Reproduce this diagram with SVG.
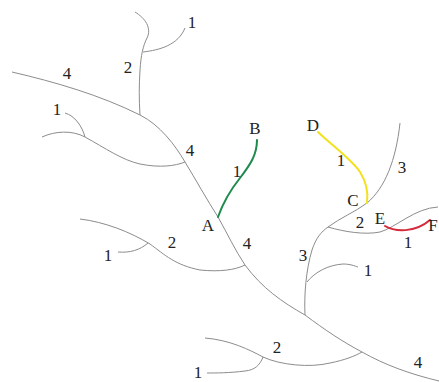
<svg xmlns="http://www.w3.org/2000/svg" width="439" height="382" viewBox="0 0 439 382">
<style>
.br{fill:none;stroke:#8c8c8c;stroke-width:1}
.hl{fill:none;stroke-width:2;stroke-linecap:round}
text{font-family:"Liberation Serif","Times New Roman",serif;font-size:17px;fill:#222;text-anchor:middle}
</style>
<rect width="439" height="382" fill="#fff"/>
<g id="connectors">
<path class="br" d="M12,72 C55,82 100,95 140,115 C160,125 175,145 185,162 C196,180 207,200 218,217 C227,233 235,250 245,265 C262,288 282,302 305,315 C325,330 343,342 362,352 C385,365 410,374 439,381"/>
<path class="br" d="M135,12 C145,18 152,28 147,38 C143,46 141,55 140,70 C139,85 139,100 140,115"/>
<path class="br" d="M143,52 C160,50 178,45 185,28"/>
<path class="br" d="M42,137 C55,131 72,130 85,137 C105,148 122,160 140,164 C160,168 175,166 185,162"/>
<path class="br" d="M85,137 C82,126 75,116 65,113"/>
<path class="br" d="M305,315 C304,295 306,270 312,250 C316,238 321,232 328,227 C340,218 355,212 367,203 C385,188 396,160 400,123"/>
<path class="br" d="M328,227 C345,232 365,235 380,232 C395,228 415,208 438,207"/>
<path class="br" d="M307,282 C315,272 328,265 343,264 C350,264 355,266 358,267"/>
<path class="br" d="M80,219 C105,222 130,232 150,244 C165,255 175,265 200,270 C220,272 235,270 245,265"/>
<path class="br" d="M148,243 C140,250 130,253 118,252"/>
<path class="br" d="M205,338 C230,340 250,350 263,357 C280,365 310,368 330,363 C345,360 355,356 362,352"/>
<path class="br" d="M263,357 C260,365 255,370 245,371 C230,373 215,373 207,373"/>
<path class="hl" stroke="#1e8a4c" d="M218,217 C224,200 232,188 240,178 C250,165 257,155 257,140"/>
<path class="hl" stroke="#f2e11c" d="M318,132 C335,148 352,160 360,172 C367,183 368,195 367,203"/>
<path class="hl" stroke="#d42a3a" d="M385,226 C395,232 415,233 430,220"/>
</g>
<g id="labels">
<text x="192" y="28">1</text>
<text x="128" y="73">2</text>
<text x="67" y="79">4</text>
<text x="57" y="115">1</text>
<text x="190" y="156">4</text>
<text x="255" y="134">B</text>
<text x="237" y="177">1</text>
<text x="208" y="231">A</text>
<text x="313" y="131">D</text>
<text x="341" y="166">1</text>
<text x="402" y="173">3</text>
<text x="353" y="206">C</text>
<text x="380" y="224">E</text>
<text x="360" y="228">2</text>
<text x="433" y="231">F</text>
<text x="408" y="248">1</text>
<text x="303" y="261">3</text>
<text x="368" y="276">1</text>
<text x="247" y="249">4</text>
<text x="172" y="248">2</text>
<text x="108" y="261">1</text>
<text x="277" y="353">2</text>
<text x="198" y="378">1</text>
<text x="418" y="368">4</text>
</g>
</svg>
